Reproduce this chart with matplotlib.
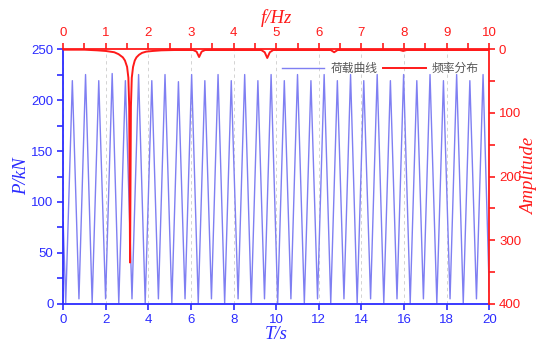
import matplotlib.pyplot as plt
from matplotlib.ticker import MultipleLocator

# load curve: peak / trough extremes
peak_t = [0.43, 1.05, 1.67, 2.30, 2.92, 3.54, 4.16, 4.78, 5.41, 6.03, 6.65, 7.27,
          7.89, 8.52, 9.14, 9.76, 10.38, 11.00, 11.63, 12.25, 12.87, 13.49, 14.11,
          14.74, 15.36, 15.98, 16.60, 17.22, 17.85, 18.47, 19.09, 19.71]
peak_v = [219, 225, 219, 226, 219, 225, 219, 225, 218, 225, 219, 225,
          219, 225, 219, 225, 219, 225, 219, 225, 219, 225, 219,
          225, 219, 225, 219, 225, 219, 225, 219, 225]
trough_t = [0.0, 0.12, 0.74, 1.36, 1.99, 2.61, 3.23, 3.85, 4.47, 5.10, 5.72, 6.34,
            6.96, 7.58, 8.21, 8.83, 9.45, 10.07, 10.69, 11.32, 11.94, 12.56, 13.18,
            13.80, 14.43, 15.05, 15.67, 16.29, 16.91, 17.54, 18.16, 18.78, 19.40, 20.0]
trough_v = [80, 1, 5, 1, 5, 1, 5, 1, 5, 1, 5, 1,
            5, 1, 5, 1, 5, 1, 5, 1, 5, 1, 5,
            1, 5, 1, 5, 1, 5, 1, 5, 1, 5, 12]

# frequency spectrum
freq = [0.0, 0.5, 0.8, 1.0, 1.1, 1.2, 1.3, 1.4, 1.45, 1.5, 1.53, 1.55, 1.57,
        1.59, 1.61, 1.64, 1.68, 1.72, 1.78, 1.85, 1.95, 2.1, 2.3, 2.6, 3.05,
        3.13, 3.19, 3.25, 3.33, 4.65, 4.73, 4.79, 4.85, 4.93, 6.28, 6.36, 6.44,
        7.9, 7.98, 8.06, 10.0]
amp = [1, 1, 2, 3, 4, 5, 8, 13, 18, 28, 45, 90, 335,
       90, 45, 28, 18, 13, 9, 6, 4, 3, 2, 1.5, 1.5,
       4, 12.5, 4, 1.5, 1.5, 5, 14, 5, 1.5, 1.5, 5, 1.5,
       1.5, 3, 1.5, 1.5]

pts = sorted(zip(peak_t + trough_t, peak_v + trough_v))
load_t = [p[0] for p in pts]
load_v = [p[1] for p in pts]

blue = '#2b2bff'
red = '#ff1a1a'
serif_it = dict(family='Liberation Serif', style='italic', fontsize=13.5)

plt.rcParams['font.family'] = ['Liberation Sans', 'DejaVu Sans']
fig = plt.figure(figsize=(5.4, 3.53), dpi=100)
ax = fig.add_axes([0.117, 0.139, 0.789, 0.722])
ax2 = fig.add_axes([0.117, 0.139, 0.789, 0.722], facecolor='none')

l1, = ax.plot(load_t, load_v, color='#7f7ff2', lw=1.0)
ax.set_xlim(0, 20)
ax.set_ylim(0, 250)
ax.xaxis.set_major_locator(MultipleLocator(2))
ax.yaxis.set_major_locator(MultipleLocator(50))
ax.yaxis.set_minor_locator(MultipleLocator(25))
ax.grid(axis='x', color='#cccccc', ls=(0, (4, 4)), lw=0.6)
for s in ['top', 'right']:
    ax.spines[s].set_visible(False)
for s in ['left', 'bottom']:
    ax.spines[s].set_color(blue)
    ax.spines[s].set_linewidth(1.3)
ax.tick_params(which='both', colors=blue, labelsize=9.5, direction='out',
               width=1.2, length=4, pad=3)
ax.set_xlabel('T/s', color=blue, labelpad=0, **serif_it)
ax.set_ylabel('P/kN', color=blue, labelpad=1, **serif_it)

l2, = ax2.plot(freq, amp, color=red, lw=1.4)
ax2.set_xlim(0, 10)
ax2.set_ylim(400, 0)
ax2.xaxis.tick_top()
ax2.xaxis.set_label_position('top')
ax2.yaxis.tick_right()
ax2.yaxis.set_label_position('right')
ax2.xaxis.set_major_locator(MultipleLocator(1))
ax2.xaxis.set_minor_locator(MultipleLocator(0.5))
ax2.yaxis.set_major_locator(MultipleLocator(100))
ax2.yaxis.set_minor_locator(MultipleLocator(50))
for s in ['bottom', 'left']:
    ax2.spines[s].set_visible(False)
for s in ['top', 'right']:
    ax2.spines[s].set_color(red)
    ax2.spines[s].set_linewidth(1.3)
ax2.tick_params(which='both', colors=red, labelsize=9.5, direction='out',
                width=1.2, length=4, pad=3)
ax2.set_xlabel('f/Hz', color=red, labelpad=3, **serif_it)
ax2.set_ylabel('Amplitude', color=red, labelpad=0, **serif_it)

leg = ax2.legend([l1, l2], ['荷载曲线', '频率分布'], loc='upper right',
                 bbox_to_anchor=(1.0, 0.99), ncol=2, frameon=False,
                 handlelength=3.6, columnspacing=0.5, handletextpad=0.5,
                 prop={'family': ['Noto Sans CJK SC', 'DejaVu Sans'], 'size': 8.5})
for t in leg.get_texts():
    t.set_color('#555555')

fig.savefig('out.png', dpi=100)
